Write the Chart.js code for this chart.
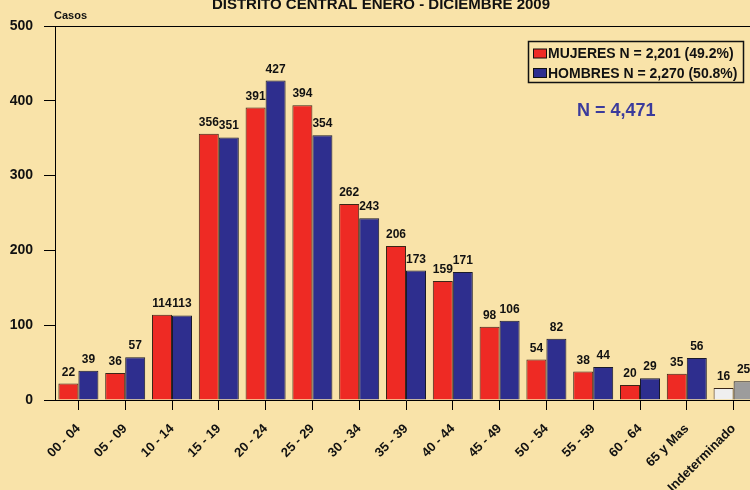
<!DOCTYPE html>
<html>
<head>
<meta charset="utf-8">
<script src="https://cdn.jsdelivr.net/npm/chart.js@4/dist/chart.umd.min.js"></script>
<style>
html,body{margin:0;padding:0;background:#F9E3A9;overflow:hidden;width:750px;height:490px;}
#wrap{position:absolute;left:0;top:0;width:760px;height:490px;}
</style>
</head>
<body>
<div id="wrap"><canvas id="c" width="760" height="490"></canvas></div>
<script>
const categories = ['00 - 04','05 - 09','10 - 14','15 - 19','20 - 24','25 - 29','30 - 34','35 - 39','40 - 44','45 - 49','50 - 54','55 - 59','60 - 64','65 y Mas','Indeterminado'];
const mujeres = [22, 36, 114, 356, 391, 394, 262, 206, 159, 98, 54, 38, 20, 35, 16];
const hombres = [39, 57, 113, 351, 427, 354, 243, 173, 171, 106, 82, 44, 29, 56, 25];
const yTicks = [0, 100, 200, 300, 400, 500];
const seriesNames = ['MUJERES N = 2,201 (49.2%)', 'HOMBRES N = 2,270 (50.8%)'];
const titleText = 'DISTRITO CENTRAL ENERO - DICIEMBRE 2009';
const axisTitle = 'Casos';
const totalText = 'N = 4,471';

const RED = '#EE2A24', BLUE = '#2E2E8E', LIGHT = '#EFEFEF', GRAY = '#9C9C9C';
const FONT = '"Liberation Sans", Arial, sans-serif';

const mujColors = categories.map((c, i) => i === categories.length - 1 ? LIGHT : RED);
const homColors = categories.map((c, i) => i === categories.length - 1 ? GRAY : BLUE);

const decor = {
  id: 'decor',
  afterDraw(chart) {
    const ctx = chart.ctx;
    const a = chart.chartArea;
    ctx.save();
    // top frame line
    ctx.strokeStyle = '#000';
    ctx.lineWidth = 1;
    ctx.beginPath();
    ctx.moveTo(a.left - 11, Math.round(a.top) + 0.5);
    ctx.lineTo(chart.width, Math.round(a.top) + 0.5);
    ctx.stroke();
    // title
    ctx.fillStyle = '#111';
    ctx.font = 'bold 15px ' + FONT;
    ctx.textAlign = 'center';
    ctx.textBaseline = 'alphabetic';
    ctx.fillText(titleText, 381, 9);
    // axis title
    ctx.font = 'bold 11px ' + FONT;
    ctx.textAlign = 'left';
    ctx.fillText(axisTitle, 54, 19);
    // data labels
    ctx.font = 'bold 12px ' + FONT;
    ctx.textAlign = 'center';
    chart.data.datasets.forEach((ds, di) => {
      const meta = chart.getDatasetMeta(di);
      meta.data.forEach((bar, i) => {
        ctx.fillText(String(ds.data[i]), bar.x, bar.y - 8);
      });
    });
    // legend
    const lx = 528, ly = 41, lw = 215, lh = 41;
    ctx.lineWidth = 1.5;
    ctx.strokeStyle = '#111';
    ctx.strokeRect(lx + 0.5, ly + 0.5, lw, lh);
    ctx.font = 'bold 14px ' + FONT;
    ctx.textAlign = 'left';
    ctx.textBaseline = 'middle';
    const rows = [53.5, 73];
    chart.data.datasets.forEach((ds, di) => {
      const y = rows[di];
      ctx.fillStyle = di === 0 ? RED : BLUE;
      ctx.fillRect(533.5, y - 4.5, 13, 9);
      ctx.lineWidth = 1;
      ctx.strokeStyle = '#111';
      ctx.strokeRect(533.5, y - 4.5, 13, 9);
      ctx.fillStyle = '#111';
      ctx.fillText(ds.label, 548, y + 1);
    });
    // total
    ctx.fillStyle = '#3B3B9C';
    ctx.font = 'bold 18px ' + FONT;
    ctx.textBaseline = 'alphabetic';
    ctx.fillText(totalText, 577, 116);
    ctx.restore();
  }
};

new Chart(document.getElementById('c'), {
  type: 'bar',
  data: {
    labels: categories,
    datasets: [
      { label: seriesNames[0], data: mujeres, backgroundColor: mujColors, borderColor: '#3a2618', borderWidth: 1, borderSkipped: 'bottom' },
      { label: seriesNames[1], data: hombres, backgroundColor: homColors, borderColor: '#1a1a2a', borderWidth: 1, borderSkipped: 'bottom' }
    ]
  },
  options: {
    responsive: false,
    animation: false,
    devicePixelRatio: 1,
    layout: { padding: { left: 0, right: 3, top: 26, bottom: 0 } },
    plugins: { legend: { display: false }, title: { display: false }, tooltip: { enabled: false } },
    datasets: { bar: { categoryPercentage: 0.855, barPercentage: 1 } },
    scales: {
      x: {
        offset: true,
        grid: { offset: false, drawOnChartArea: false, tickLength: 10, color: '#000', tickWidth: 1 },
        border: { color: '#000', width: 1 },
        ticks: { autoSkip: false, minRotation: 45, maxRotation: 45, color: '#111', padding: 11, font: { family: FONT, size: 13, weight: 'bold' } },
        afterFit(s) { s.height = 90; s.paddingLeft = 0; s.paddingRight = 0; }
      },
      y: {
        min: 0, max: 500,
        afterBuildTicks(s) { s.ticks = yTicks.map(v => ({ value: v })); },
        grid: { drawOnChartArea: false, tickLength: 11, color: '#000' },
        border: { color: '#000', width: 1 },
        ticks: { color: '#111', padding: 11, font: { family: FONT, size: 14, weight: 'bold' } },
        afterFit(s) { s.width = 55; s.paddingTop = 0; s.paddingBottom = 0; }
      }
    }
  },
  plugins: [decor]
});
</script>
</body>
</html>
